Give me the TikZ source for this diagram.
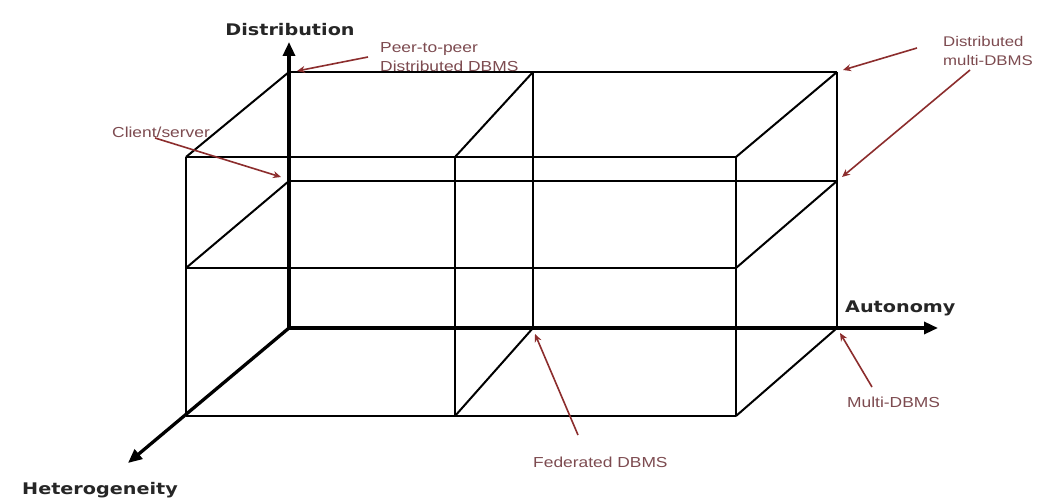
\documentclass[tikz,border=0pt]{standalone}
\usepackage{fontspec}
\setmainfont{Liberation Sans}
\newfontfamily\axisfont{DejaVu Sans}
\usetikzlibrary{arrows.meta}
\definecolor{callred}{RGB}{140,45,45}
\definecolor{calltext}{RGB}{125,75,80}
\tikzset{
  boxline/.style={line width=2pt, black},
  axisline/.style={line width=3.3pt, black, -{Triangle[length=14pt,width=12pt]}},
  axislabel/.style={font=\axisfont\bfseries\fontsize{16}{18}\selectfont, text=black!85, inner sep=0pt},
  calllabel/.style={font=\fontsize{14.5}{20}\selectfont, text=calltext, inner sep=0pt, align=left, anchor=west},
  callarrow/.style={line width=1.6pt, callred, -{Stealth[length=8pt,width=7pt]}}
}
\newcommand{\wide}[1]{\scalebox{1.2}[1]{#1}}
\begin{document}
\begin{tikzpicture}[x=1pt,y=-1pt]
\useasboundingbox[fill=white] (0,0) rectangle (1037,502);
% back plane corners
\coordinate (O)   at (289,328);
\coordinate (BTL) at (289,72);
\coordinate (BML) at (289,181);
\coordinate (BTM) at (533,72);
\coordinate (BBM) at (533,328);
\coordinate (BTR) at (837,72);
\coordinate (BMR) at (837,181);
\coordinate (BBR) at (837,328);
% front plane corners
\coordinate (FTL) at (186,157);
\coordinate (FML) at (186,268);
\coordinate (FBL) at (186,416);
\coordinate (FTM) at (455,157);
\coordinate (FBM) at (455,416);
\coordinate (FTR) at (736,157);
\coordinate (FMR) at (736,268);
\coordinate (FBR) at (736,416);
% axis tips
\coordinate (DT) at (289,42);
\coordinate (AT) at (938,328);
\coordinate (HT) at (128,463);

% back plane lines
\draw[boxline] (BTL) -- (BTR);
\draw[boxline] (BML) -- (BMR);
\draw[boxline] (BTM) -- (BBM);
\draw[boxline] (BTR) -- (BBR);
% front plane lines
\draw[boxline] (FTL) -- (FTR);
\draw[boxline] (FML) -- (FMR);
\draw[boxline] (FBL) -- (FBR);
\draw[boxline] (FTL) -- (FBL);
\draw[boxline] (FTM) -- (FBM);
\draw[boxline] (FTR) -- (FBR);
% depth lines
\draw[boxline] (BTL) -- (FTL);
\draw[boxline] (BML) -- (FML);
\draw[boxline] (BTM) -- (FTM);
\draw[boxline] (BBM) -- (FBM);
\draw[boxline] (BTR) -- (FTR);
\draw[boxline] (BMR) -- (FMR);
\draw[boxline] (BBR) -- (FBR);
% axes
\draw[axisline] (O) -- (DT);
\draw[axisline] (O) -- (AT);
\draw[axisline] (O) -- (HT);

% axis labels
\node[axislabel] (dist) at (290,30) {\wide{Distribution}};
\node[axislabel, anchor=west] (auto) at (845,308) {\wide{Autonomy}};
\node[axislabel, anchor=west] (hete) at (22,490) {\wide{Heterogeneity}};

% callout labels
\node[calllabel] (p2p) at (380,57) {\wide{Peer-to-peer}\\[-1pt]\wide{Distributed DBMS}};
\node[calllabel] (cs) at (112,132) {\wide{Client/server}};
\node[calllabel, font=\fontsize{14}{20}\selectfont] (dmd) at (943,51) {\wide{Distributed}\\[-1pt]\wide{multi-DBMS}};
\node[calllabel] (fed) at (533,462) {\wide{Federated DBMS}};
\node[calllabel] (mdb) at (847,402) {\wide{Multi-DBMS}};

% callout arrow starts
\coordinate (p2ps) at (368,57);
\coordinate (css)  at (155,138);
\coordinate (dmd1) at (917,48);
\coordinate (dmd2) at (970,70);
\coordinate (feds) at (578,435);
\coordinate (mdbs) at (872,387);

\draw[callarrow] (p2ps) -- (297,71);
\draw[callarrow] (css) -- (281,177);
\draw[callarrow] (dmd1) -- (843,70);
\draw[callarrow] (dmd2) -- (842,177);
\draw[callarrow] (feds) -- (535,334);
\draw[callarrow] (mdbs) -- (840,333);
\end{tikzpicture}
\end{document}
